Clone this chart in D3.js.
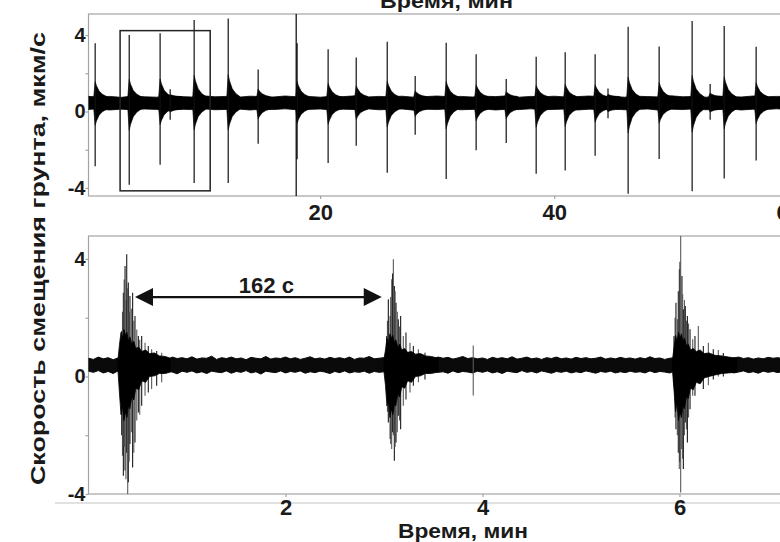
<!DOCTYPE html>
<html><head><meta charset="utf-8">
<script src="https://cdn.jsdelivr.net/npm/d3@7"></script>
<style>
html,body{margin:0;padding:0;background:#fff;overflow:hidden}
text{font-family:"Liberation Sans",Arial,sans-serif;font-weight:bold;fill:#1a1a1a}
</style>
</head><body>
<svg id="c" width="780" height="542"></svg>
<script>
// ---------------- DATA ----------------
// Top panel: impulse events (time, min; peak up / down, μm/s)
const topEventT    = [0.77,3.68,6.32,7.18,9.23,12.14,14.7,18.03,20.68,23.08,25.73,28.12,30.77,33.33,35.9,38.46,40.94,43.5,44.6,46.32,48.97,51.79,53.33,54.53,57.26];
const topEventUp   = [3.57,4.0,4.09,1.17,4.78,4.87,2.2,3.57,3.25,2.82,3.65,1.86,3.6,3.0,1.7,2.87,3.1,3.0,1.2,4.43,3.4,4.73,1.44,4.47,3.39];
const topEventDown = [-2.87,-3.83,-2.78,-0.43,-3.74,-3.74,-1.69,-2.5,-2.7,-1.79,-3.2,-1.22,-3.53,-2.03,-1.65,-3.25,-3.08,-2.31,-0.35,-4.3,-2.49,-4.17,-0.43,-3.51,-2.56];
// Top panel background noise envelope, one sample per minute (0..62)
const topNoiseStep = 1;
const topNoiseHi = [0.8,0.76,0.79,0.74,0.81,0.77,0.75,0.8,0.78,0.76,
  0.82,0.77,0.79,0.75,0.8,0.78,0.76,0.81,0.77,0.79,
  0.75,0.8,0.78,0.82,0.76,0.79,0.77,0.8,0.75,0.78,
  0.81,0.77,0.79,0.76,0.8,0.78,0.82,0.75,0.79,0.77,
  0.8,0.76,0.78,0.81,0.77,0.79,0.75,0.8,0.78,0.76,
  0.82,0.77,0.79,0.75,0.8,0.78,0.76,0.81,0.77,0.79,
  0.78,0.8,0.77];
const topNoiseLo = [0.1,0.14,0.08,0.12,0.09,0.13,0.11,0.07,0.12,0.1,
  0.14,0.09,0.11,0.13,0.08,0.12,0.1,0.14,0.09,0.11,
  0.13,0.08,0.12,0.1,0.14,0.09,0.11,0.13,0.07,0.12,
  0.1,0.14,0.09,0.11,0.13,0.08,0.12,0.1,0.14,0.09,
  0.11,0.13,0.08,0.12,0.1,0.14,0.09,0.11,0.13,0.07,
  0.12,0.1,0.14,0.09,0.11,0.13,0.08,0.12,0.1,0.14,
  0.11,0.09,0.12];
const topMarkT = 17.95;             // vertical marker line
const zoomBoxT = [2.9, 10.6];       // zoomed window (min)
const zoomBoxV = [-4.15, 4.23];

// Bottom panel background noise envelope, sample every 0.05 min (0..7.4)
const botNoiseStep = 0.05;
const botNoiseHi = [0.62,0.58,0.66,0.6,0.64,0.57,0.63,0.6,0.68,0.61,
  0.59,0.65,0.62,0.7,0.6,0.63,0.58,0.66,0.61,0.64,
  0.6,0.67,0.59,0.63,0.62,0.69,0.58,0.64,0.61,0.66,
  0.6,0.63,0.57,0.65,0.62,0.6,0.68,0.59,0.63,0.61,
  0.66,0.6,0.64,0.58,0.62,0.67,0.6,0.63,0.59,0.65,
  0.61,0.64,0.6,0.66,0.58,0.63,0.62,0.68,0.6,0.62,
  0.64,0.6,0.66,0.62,0.65,0.6,0.63,0.67,0.61,0.64,
  0.6,0.66,0.62,0.65,0.59,0.63,0.68,0.61,0.64,0.6,
  0.63,0.58,0.65,0.61,0.64,0.6,0.67,0.59,0.62,0.66,
  0.6,0.63,0.58,0.64,0.61,0.66,0.6,0.63,0.59,0.65,
  0.61,0.64,0.6,0.62,0.66,0.59,0.63,0.6,0.65,0.61,
  0.63,0.59,0.64,0.6,0.67,0.61,0.63,0.58,0.62,0.64,
  0.66,0.62,0.65,0.6,0.63,0.67,0.6,0.64,0.61,0.65,
  0.6,0.63,0.66,0.61,0.64,0.59,0.63,0.6,0.65,0.62,
  0.64,0.6,0.63,0.66,0.61,0.63,0.6,0.64,0.62];
const botNoiseLo = [0.18,0.14,0.2,0.12,0.17,0.1,0.19,0.15,0.13,0.2,
  0.16,0.11,0.18,0.14,0.2,0.12,0.17,0.15,0.09,0.18,
  0.14,0.19,0.12,0.16,0.1,0.18,0.15,0.13,0.19,0.11,
  0.17,0.14,0.2,0.12,0.16,0.08,0.18,0.15,0.13,0.19,
  0.12,0.17,0.14,0.19,0.11,0.16,0.13,0.18,0.15,0.1,
  0.17,0.13,0.19,0.12,0.16,0.14,0.18,0.11,0.17,0.14,
  0.16,0.12,0.18,0.14,0.1,0.17,0.13,0.19,0.15,0.12,
  0.18,0.14,0.16,0.11,0.19,0.13,0.17,0.15,0.12,0.18,
  0.14,0.19,0.12,0.16,0.1,0.18,0.15,0.13,0.2,0.14,
  0.17,0.12,0.19,0.15,0.11,0.17,0.14,0.18,0.12,0.16,
  0.13,0.19,0.15,0.11,0.17,0.14,0.18,0.12,0.16,0.13,
  0.18,0.14,0.16,0.12,0.19,0.13,0.17,0.15,0.12,0.18,
  0.15,0.12,0.17,0.14,0.19,0.11,0.16,0.13,0.18,0.14,
  0.17,0.12,0.15,0.19,0.13,0.16,0.11,0.18,0.14,0.17,
  0.13,0.18,0.15,0.12,0.17,0.14,0.19,0.13,0.16];
// Bottom panel: dense cores of the three bursts
const burstCoreT  = [[0.3,0.315,0.33,0.345,0.36,0.375,0.39,0.405,0.42,0.44,0.46,0.48,0.51,0.54,0.58,0.62,0.67,0.72,0.78,0.83],
                     [3.0,3.015,3.03,3.045,3.06,3.075,3.09,3.105,3.12,3.14,3.16,3.18,3.21,3.24,3.28,3.32,3.37,3.42,3.48,3.55],
                     [5.93,5.945,5.96,5.975,5.99,6.005,6.02,6.035,6.05,6.07,6.09,6.11,6.14,6.17,6.21,6.25,6.3,6.36,6.43,6.5,6.58]];
const burstCoreHi = [[0.6,1.1,1.5,1.3,1.6,1.4,1.5,1.2,1.35,1.1,1.2,0.95,1.0,0.85,0.9,0.78,0.8,0.7,0.68,0.62],
                     [0.6,0.9,1.3,1.1,1.45,1.3,1.4,1.15,1.25,1.0,1.1,0.9,0.95,0.82,0.85,0.76,0.78,0.7,0.68,0.62],
                     [0.6,1.0,1.4,1.2,1.5,1.3,1.45,1.2,1.3,1.05,1.1,0.9,0.95,0.85,0.9,0.78,0.8,0.72,0.7,0.66,0.62]];
const burstCoreLo = [[0.15,-0.6,-1.3,-1.0,-1.5,-1.2,-1.4,-1.0,-1.1,-0.7,-0.8,-0.4,-0.45,-0.15,-0.2,0.0,0.02,0.1,0.1,0.15],
                     [0.15,-0.3,-1.0,-0.8,-1.4,-1.1,-1.3,-0.95,-1.0,-0.6,-0.7,-0.35,-0.4,-0.15,-0.2,0.0,0.02,0.1,0.1,0.15],
                     [0.15,-0.5,-1.2,-0.9,-1.5,-1.2,-1.4,-1.0,-1.1,-0.7,-0.75,-0.4,-0.45,-0.2,-0.25,-0.05,0.0,0.05,0.1,0.12,0.15]];
// Bottom panel: individual oscillation peaks (time, max, min)
const botStickT  = [0.337,0.345,0.354,0.362,0.371,0.38,0.388,0.398,0.404,0.413,0.421,0.435,0.448,0.46,0.472,0.49,0.506,0.52,0.54,0.574,0.607,0.641,0.692,0.743,
  3.027,3.035,3.044,3.061,3.07,3.078,3.087,3.095,3.105,3.113,3.122,3.135,3.145,3.158,3.169,3.196,3.223,3.264,3.298,3.349,3.416,3.906,
  5.944,5.955,5.964,5.978,5.988,5.998,6.005,6.012,6.025,6.032,6.039,6.05,6.059,6.07,6.08,6.092,6.107,6.134,6.157,6.191,6.242,6.293,6.343,6.394,6.445];
const botStickHi = [1.55,2.2,2.85,3.3,3.76,2.6,4.16,3.0,3.2,2.2,2.74,2.3,2.85,1.9,2.06,1.6,1.38,1.25,1.38,1.15,1.04,0.93,0.87,0.81,
  1.38,1.9,2.63,2.06,2.7,3.31,3.5,3.99,3.08,2.9,2.51,2.2,1.95,1.7,2.06,1.38,1.5,1.15,1.04,0.93,0.81,1.05,
  1.38,2.0,2.51,1.95,2.9,3.65,3.9,4.78,3.42,2.8,2.29,2.6,2.4,1.9,2.06,1.8,1.61,1.27,1.38,1.72,1.04,1.15,0.93,0.9,0.8];
const botStickLo = [-2.0,-2.7,-3.38,-2.4,-3.2,-3.5,-2.6,-4.0,-3.6,-2.9,-2.3,-1.9,-3.1,-2.6,-2.25,-1.5,-1.23,-1.3,-1.0,-0.66,-0.55,-0.43,-0.32,-0.2,
  -0.55,-1.2,-1.57,-2.13,-2.3,-2.47,-1.9,-2.0,-2.87,-2.4,-2.25,-1.9,-1.34,-1.5,-1.8,-1.0,-0.78,-0.55,-0.32,-0.2,-0.1,-0.65,
  -0.32,-1.4,-1.8,-2.0,-2.6,-3.15,-2.9,-3.95,-2.47,-2.8,-3.15,-2.0,-1.57,-1.8,-2.25,-1.4,-1.12,-0.66,-0.66,-0.2,-0.43,-0.3,-0.1,0.0,0.0];
const arrowT = [0.472, 2.977];
const arrowV = 2.7;
const arrowLabel = "162 с";

const yTicks = [-4,-2,0,2,4];
const yTickLabeled = [-4,0,4];
const topXTicks = [20,40,60];
const botXTicks = [2,4,6];
const xTitle = "Время, мин";
const yTitle = "Скорость смещения грунта, мкм/с";

// ---------------- DRAWING ----------------
const svg = d3.select("#c");
const frameColor = "#a3a3a3";

const topX = d3.scaleLinear().domain([0.2, 62]).range([88.5, 811.6]);
const topY = d3.scaleLinear().domain([-4.42, 5.1]).range([196, 14]);
const botX = d3.scaleLinear().domain([0, 7.4]).range([88.5, 817.4]);
const botY = d3.scaleLinear().domain([-4, 4.78]).range([494, 236]);

const defs = svg.append("defs");
function clip(id, X, Y){
  defs.append("clipPath").attr("id", id).append("rect")
    .attr("x", X.range()[0]).attr("y", Y.range()[1])
    .attr("width", X.range()[1]-X.range()[0]).attr("height", Y.range()[0]-Y.range()[1]);
}
clip("ct", topX, topY); clip("cb", botX, botY);

function frame(X, Y){
  svg.append("rect").attr("x", X.range()[0]).attr("y", Y.range()[1])
    .attr("width", X.range()[1]-X.range()[0]).attr("height", Y.range()[0]-Y.range()[1])
    .attr("fill","none").attr("stroke", frameColor).attr("stroke-width",1.2);
}
frame(topX, topY); frame(botX, botY);
svg.append("line").attr("x1",55).attr("x2",780).attr("y1",botY(-4)+9).attr("y2",botY(-4)+9)
  .attr("stroke","#c4c4c4").attr("stroke-width",1.2);

// ---- top panel trace ----
const gt = svg.append("g").attr("clip-path","url(#ct)");
const topNoise = topNoiseHi.map((h,i)=>({t:i*topNoiseStep, hi:h, lo:topNoiseLo[i]}));
const areaT = d3.area().x(d=>topX(d.t)).y0(d=>topY(d.lo)).y1(d=>topY(d.hi));
gt.append("path").attr("d", areaT(topNoise)).attr("fill","#000").attr("stroke","#000").attr("stroke-width",0.8);
const codaDT = [-0.12, 0, 0.12, 0.35, 0.65, 1.0];
const codaF  = [0, 0.28, 0.2, 0.1, 0.04, 0];
topEventT.forEach((t,i)=>{
  const pts = codaDT.map((dt,k)=>({t:t+dt, hi:0.78+codaF[k]*(topEventUp[i]-0.78), lo:0.12+codaF[k]*(topEventDown[i]-0.12)}));
  gt.append("path").attr("d", areaT(pts)).attr("fill","#000").attr("stroke","#000").attr("stroke-width",0.6);
  gt.append("line").attr("x1",topX(t)).attr("x2",topX(t))
    .attr("y1",topY(topEventDown[i])).attr("y2",topY(topEventUp[i]))
    .attr("stroke","#111").attr("stroke-width",1.2);
});
gt.append("line").attr("x1",topX(topMarkT)).attr("x2",topX(topMarkT))
  .attr("y1",topY.range()[0]).attr("y2",topY.range()[1]).attr("stroke","#000").attr("stroke-width",1.2);
svg.append("rect").attr("x",topX(zoomBoxT[0])).attr("y",topY(zoomBoxV[1]))
  .attr("width",topX(zoomBoxT[1])-topX(zoomBoxT[0])).attr("height",topY(zoomBoxV[0])-topY(zoomBoxV[1]))
  .attr("fill","none").attr("stroke","#222").attr("stroke-width",1.5);

// ---- bottom panel trace ----
const gb = svg.append("g").attr("clip-path","url(#cb)");
const botNoise = botNoiseHi.map((h,i)=>({t:i*botNoiseStep, hi:h, lo:botNoiseLo[i]}));
const areaB = d3.area().x(d=>botX(d.t)).y0(d=>botY(d.lo)).y1(d=>botY(d.hi));
gb.append("path").attr("d", areaB(botNoise)).attr("fill","#0a0a0a").attr("stroke","#0a0a0a").attr("stroke-width",1);
botStickT.forEach((t,i)=>{
  gb.append("line").attr("x1",botX(t)).attr("x2",botX(t))
    .attr("y1",botY(botStickLo[i])).attr("y2",botY(botStickHi[i]))
    .attr("stroke", i%2===1 ? "#5a5a5a" : "#1a1a1a").attr("stroke-width",1.1);
});
burstCoreT.forEach((ts,b)=>{
  const pts = ts.map((t,k)=>({t, hi:burstCoreHi[b][k], lo:burstCoreLo[b][k]}));
  gb.append("path").attr("d", areaB(pts)).attr("fill","#000").attr("stroke","#000").attr("stroke-width",0.8);
});

// ---- axes ----
function styleAxis(g, fs){
  g.select(".domain").remove();
  g.selectAll(".tick line").attr("stroke", frameColor).attr("stroke-width",1.2);
  g.selectAll(".tick text").attr("font-size", fs).attr("fill","#1a1a1a")
    .style("font-family","'Liberation Sans',Arial,sans-serif").style("font-weight","bold");
}
const yFmt = v => yTickLabeled.includes(v) ? String(v) : "";
[topY, botY].forEach(Y=>{
  const g = svg.append("g").attr("transform",`translate(88.5,0)`)
    .call(d3.axisLeft(Y).tickValues(yTicks).tickFormat(yFmt).tickSize(3).tickPadding(0));
  styleAxis(g, 20);
});
const gx1 = svg.append("g").attr("transform",`translate(0,${topY.range()[0]})`)
  .call(d3.axisBottom(topX).tickValues(topXTicks).tickFormat(d3.format("d")).tickSize(3).tickPadding(5));
styleAxis(gx1, 22);
const gx2 = svg.append("g").attr("transform",`translate(0,${botY.range()[0]})`)
  .call(d3.axisBottom(botX).tickValues(botXTicks).tickFormat(d3.format("d")).tickSize(3).tickPadding(2.5));
styleAxis(gx2, 22);

// ---- arrow annotation ----
const ay = botY(arrowV), ax0 = botX(arrowT[0]), ax1 = botX(arrowT[1]);
const ah = 18, aw = 9;
svg.append("line").attr("x1",ax0+ah-2).attr("x2",ax1-ah+2).attr("y1",ay).attr("y2",ay)
  .attr("stroke","#111").attr("stroke-width",2.2);
svg.append("path").attr("d",`M${ax0},${ay}L${ax0+ah},${ay-aw}L${ax0+ah},${ay+aw}Z`).attr("fill","#111");
svg.append("path").attr("d",`M${ax1},${ay}L${ax1-ah},${ay-aw}L${ax1-ah},${ay+aw}Z`).attr("fill","#111");
svg.append("text").attr("x",(ax0+ax1)/2+8).attr("y",ay-4.5).attr("text-anchor","middle")
  .attr("font-size",22).text(arrowLabel);

// ---- titles ----
svg.append("text").attr("x",380).attr("y",8).attr("font-size",20)
  .attr("textLength",133).attr("lengthAdjust","spacingAndGlyphs").text(xTitle);
svg.append("text").attr("x",398).attr("y",537.5).attr("font-size",21)
  .attr("textLength",130).attr("lengthAdjust","spacingAndGlyphs").text(xTitle);
svg.append("text").attr("transform","translate(45,258.5) rotate(-90)").attr("text-anchor","middle")
  .attr("font-size",21).attr("textLength",453).attr("lengthAdjust","spacingAndGlyphs").text(yTitle);
</script>
</body></html>
